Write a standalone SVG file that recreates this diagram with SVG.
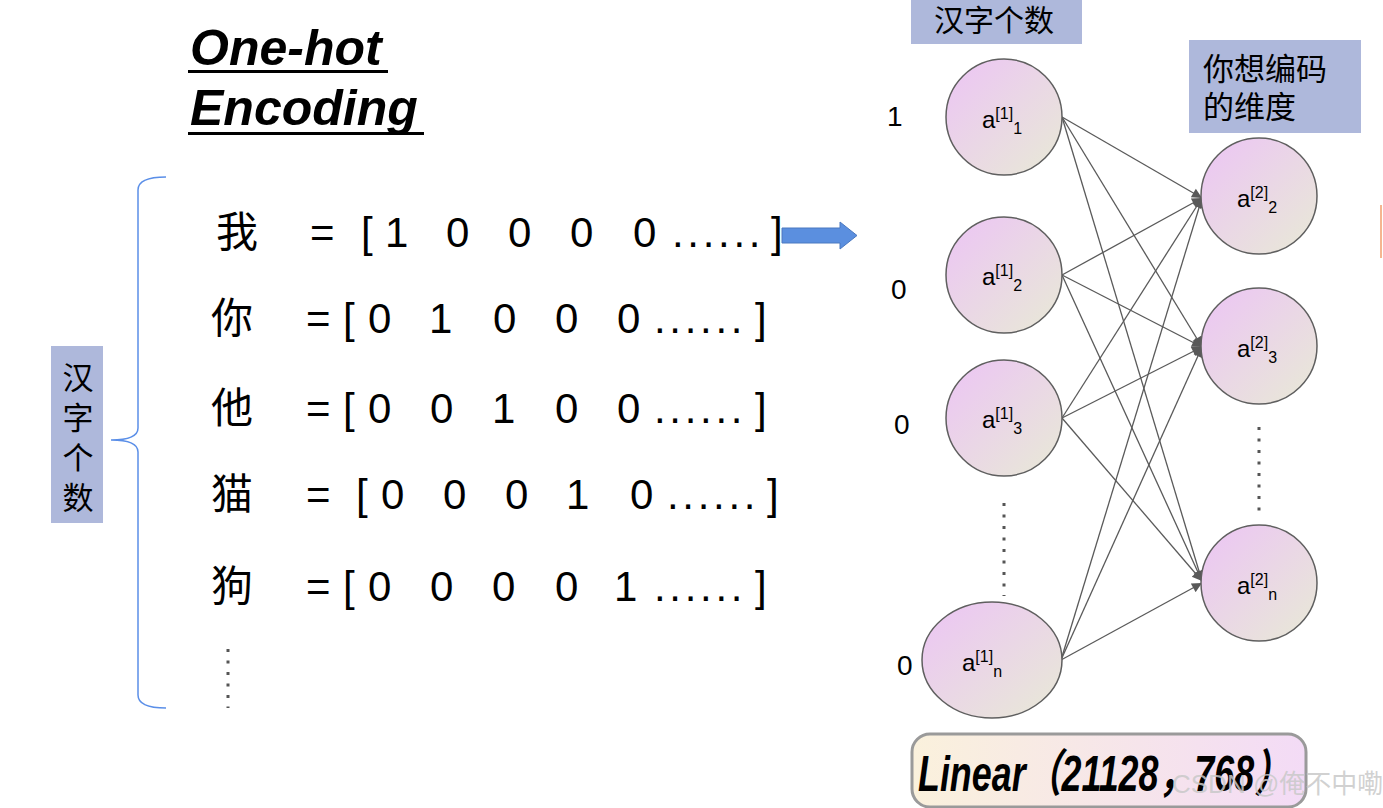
<svg xmlns="http://www.w3.org/2000/svg" width="1383" height="808" viewBox="0 0 1383 808">
<defs>
<linearGradient id="ng" x1="0" y1="0" x2="1" y2="1">
<stop offset="0" stop-color="#ecc4f5"/>
<stop offset="1" stop-color="#e8ead6"/>
</linearGradient>
<linearGradient id="lg" x1="0" y1="0" x2="1" y2="0">
<stop offset="0" stop-color="#faf1dc"/>
<stop offset="1" stop-color="#f3dbf6"/>
</linearGradient>
<marker id="ah" viewBox="0 0 10 10" refX="10" refY="5" markerWidth="12" markerHeight="10" markerUnits="userSpaceOnUse" orient="auto">
<path d="M0,0 L10,5 L0,10 z" fill="#595959"/>
</marker>
<style>
.node{fill:url(#ng);stroke:#5f5f5f;stroke-width:1.5}
.nt{font-family:"Liberation Sans",Arial,sans-serif;font-size:24px;fill:#000}
.sm{font-size:16px}
.m{font-family:"Liberation Sans",Arial,"Noto Sans CJK SC",sans-serif;font-size:42px;fill:#000}
.cjk{font-family:"Noto Sans CJK SC",sans-serif;fill:#000}
.lbl{fill:#aeb8db}
.conn line{stroke:#5a5a5a;stroke-width:1.3;marker-end:url(#ah)}
.dots{stroke:#555;stroke-width:3;stroke-dasharray:3 8.5}
.num{font-family:"Liberation Sans",Arial,sans-serif;font-size:28px;fill:#000}
</style>
</defs>
<rect width="1383" height="808" fill="#ffffff"/>

<g id="title" font-family="Liberation Sans,Arial,sans-serif" font-weight="bold" font-style="italic" font-size="50" fill="#000">
<text x="190" y="65">One-hot</text>
<rect x="188" y="70" width="200" height="3"/>
<text x="190" y="125">Encoding</text>
<rect x="188" y="132" width="236" height="3"/>
</g>

<g id="brace">
<path d="M166,177 Q138,177 138,190 L138,428 Q138,440 111,440 Q138,440 138,452 L138,695 Q138,708 166,708" fill="none" stroke="#5b8fe8" stroke-width="1.5"/>
</g>

<g id="left-label">
<rect class="lbl" x="51" y="346" width="52" height="177"/>
<text class="cjk" font-size="31" text-anchor="middle" x="78" y="389">汉</text>
<text class="cjk" font-size="31" text-anchor="middle" x="78" y="429">字</text>
<text class="cjk" font-size="31" text-anchor="middle" x="78" y="469">个</text>
<text class="cjk" font-size="31" text-anchor="middle" x="78" y="509">数</text>
</g>

<g id="rows" class="m">
<text class="cjk" font-size="42" x="216" y="247">我</text>
<text x="310" y="247">=</text><text x="361" y="247">[</text>
<text x="385" y="247">1</text><text x="446" y="247">0</text><text x="508" y="247">0</text><text x="570" y="247">0</text><text x="633" y="247">0</text>
<text x="672" y="247" letter-spacing="3.7">......</text><text x="771" y="247">]</text>

<text class="cjk" font-size="42" x="211" y="333">你</text>
<text x="306" y="333">=</text><text x="343" y="333">[</text>
<text x="368" y="333">0</text><text x="429" y="333">1</text><text x="493" y="333">0</text><text x="555" y="333">0</text><text x="617" y="333">0</text>
<text x="654" y="333" letter-spacing="3.7">......</text><text x="755" y="333">]</text>

<text class="cjk" font-size="42" x="211" y="423">他</text>
<text x="306" y="423">=</text><text x="343" y="423">[</text>
<text x="368" y="423">0</text><text x="430" y="423">0</text><text x="492" y="423">1</text><text x="555" y="423">0</text><text x="617" y="423">0</text>
<text x="654" y="423" letter-spacing="3.7">......</text><text x="755" y="423">]</text>

<text class="cjk" font-size="42" x="211" y="509">猫</text>
<text x="306" y="509">=</text><text x="356" y="509">[</text>
<text x="381" y="509">0</text><text x="443" y="509">0</text><text x="505" y="509">0</text><text x="566" y="509">1</text><text x="630" y="509">0</text>
<text x="667" y="509" letter-spacing="3.7">......</text><text x="767" y="509">]</text>

<text class="cjk" font-size="42" x="211" y="601">狗</text>
<text x="306" y="601">=</text><text x="343" y="601">[</text>
<text x="368" y="601">0</text><text x="430" y="601">0</text><text x="492" y="601">0</text><text x="555" y="601">0</text><text x="614" y="601">1</text>
<text x="654" y="601" letter-spacing="3.7">......</text><text x="755" y="601">]</text>

<line class="dots" x1="228" y1="649" x2="228" y2="708"/>
</g>

<g id="big-arrow">
<path d="M782,228 L840,228 L840,222 L857,235.5 L840,249 L840,243 L782,243 z" fill="#5b8fdf" stroke="#4a78c0" stroke-width="1"/>
</g>

<g id="top-label">
<rect class="lbl" x="911" y="0" width="171" height="44"/>
<text class="cjk" font-size="30" text-anchor="middle" x="994" y="31">汉字个数</text>
</g>

<g id="right-label">
<rect class="lbl" x="1189" y="40" width="172" height="93"/>
<text class="cjk" font-size="31" x="1203" y="80">你想编码</text>
<text class="cjk" font-size="31" x="1203" y="118">的维度</text>
</g>

<g id="inputs" class="num">
<text x="887" y="126">1</text>
<text x="891" y="299">0</text>
<text x="894" y="434">0</text>
<text x="897" y="675">0</text>
</g>

<g class="conn" id="connectors">
<line x1="1062" y1="117" x2="1202" y2="198"/>
<line x1="1062" y1="117" x2="1202" y2="347"/>
<line x1="1062" y1="117" x2="1202" y2="581"/>
<line x1="1062" y1="275" x2="1202" y2="198"/>
<line x1="1062" y1="275" x2="1202" y2="347"/>
<line x1="1062" y1="275" x2="1202" y2="581"/>
<line x1="1062" y1="418" x2="1202" y2="198"/>
<line x1="1062" y1="418" x2="1202" y2="347"/>
<line x1="1062" y1="418" x2="1202" y2="581"/>
<line x1="1061" y1="660" x2="1202" y2="198"/>
<line x1="1061" y1="660" x2="1202" y2="347"/>
<line x1="1061" y1="660" x2="1202" y2="583"/>
</g>

<g id="n1_1"><circle class="node" cx="1004" cy="117" r="58"/><text class="nt" x="982" y="128">a<tspan class="sm" dy="-9">[1]</tspan><tspan class="sm" dy="15">1</tspan></text></g>
<g id="n1_2"><circle class="node" cx="1004" cy="275" r="58"/><text class="nt" x="982" y="285">a<tspan class="sm" dy="-9">[1]</tspan><tspan class="sm" dy="15">2</tspan></text></g>
<g id="n1_3"><circle class="node" cx="1004" cy="418" r="58"/><text class="nt" x="982" y="428">a<tspan class="sm" dy="-9">[1]</tspan><tspan class="sm" dy="15">3</tspan></text></g>
<g id="n1_n"><ellipse class="node" cx="992" cy="660" rx="70" ry="58"/><text class="nt" x="962" y="671">a<tspan class="sm" dy="-9">[1]</tspan><tspan class="sm" dy="15">n</tspan></text></g>
<line class="dots" x1="1004" y1="503" x2="1004" y2="596"/>

<g id="n2_2"><circle class="node" cx="1259" cy="196" r="58"/><text class="nt" x="1237" y="207">a<tspan class="sm" dy="-9">[2]</tspan><tspan class="sm" dy="15">2</tspan></text></g>
<g id="n2_3"><circle class="node" cx="1259" cy="346" r="58"/><text class="nt" x="1237" y="357">a<tspan class="sm" dy="-9">[2]</tspan><tspan class="sm" dy="15">3</tspan></text></g>
<g id="n2_n"><circle class="node" cx="1259" cy="583" r="58"/><text class="nt" x="1237" y="594">a<tspan class="sm" dy="-9">[2]</tspan><tspan class="sm" dy="15">n</tspan></text></g>
<line class="dots" x1="1259" y1="427" x2="1259" y2="516"/>

<g id="linear">
<rect x="912" y="734" width="394" height="73" rx="18" fill="url(#lg)" stroke="#9a9a9a" stroke-width="3"/>
<text x="918" y="791" font-family="Liberation Sans,Arial,Noto Sans CJK SC,sans-serif" font-weight="bold" font-style="italic" font-size="50" textLength="372" lengthAdjust="spacingAndGlyphs" fill="#000">Linear（21128，768）</text>
</g>

<rect x="1380" y="205" width="2" height="53" fill="#f5b690"/>
<text x="1172" y="793" font-family="Liberation Sans,Noto Sans CJK SC,sans-serif" font-size="26" fill="#c9c9c9" fill-opacity="0.85">CSDN @俺不中嘞</text>
</svg>
